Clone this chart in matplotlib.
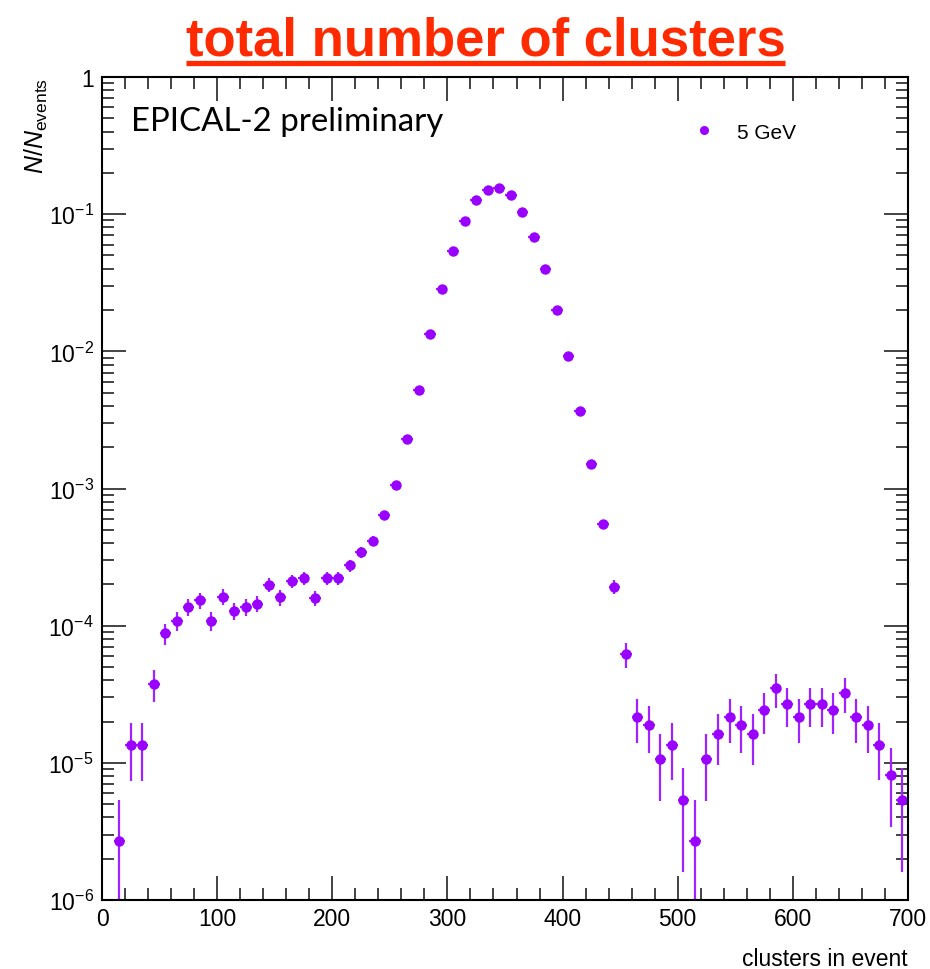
import numpy as np
import matplotlib
matplotlib.use("Agg")
import matplotlib.pyplot as plt
from matplotlib.lines import Line2D
from matplotlib.ticker import MultipleLocator, LogLocator, FuncFormatter, NullFormatter

plt.rcParams['font.family'] = ['Liberation Sans', 'DejaVu Sans']
plt.rcParams['mathtext.fontset'] = 'custom'
plt.rcParams['mathtext.rm'] = 'Liberation Sans'
plt.rcParams['mathtext.it'] = 'Liberation Sans:italic'
plt.rcParams['mathtext.bf'] = 'Liberation Sans:bold'

# bin centres (10 clusters per bin) and normalised counts
bin_centres = np.arange(15, 700, 10)
fraction = [
    2.7e-6, 1.34e-5, 1.34e-5, 3.76e-5, 8.8e-5, 1.09e-4, 1.37e-4, 1.53e-4, 1.08e-4, 1.63e-4,
    1.28e-4, 1.37e-4, 1.45e-4, 1.99e-4, 1.61e-4, 2.11e-4, 2.21e-4, 1.59e-4, 2.23e-4, 2.23e-4,
    2.75e-4, 3.42e-4, 4.16e-4, 6.4e-4, 1.06e-3, 2.3e-3, 5.2e-3, 1.33e-2, 2.84e-2, 5.4e-2,
    8.9e-2, 0.126, 0.150, 0.155, 0.138, 0.104, 0.068, 0.040, 0.020, 9.2e-3,
    3.68e-3, 1.51e-3, 5.5e-4, 1.93e-4, 6.2e-5, 2.15e-5, 1.89e-5, 1.07e-5, 1.35e-5, 5.4e-6,
    2.7e-6, 1.07e-5, 1.62e-5, 2.15e-5, 1.89e-5, 1.62e-5, 2.42e-5, 3.5e-5, 2.69e-5, 2.15e-5,
    2.69e-5, 2.69e-5, 2.42e-5, 3.23e-5, 2.15e-5, 1.89e-5, 1.35e-5, 8.1e-6, 5.4e-6,
]
fraction_err = [
    2.7e-6, 6.0e-6, 6.0e-6, 1.0e-5, 1.54e-5, 1.71e-5, 1.92e-5, 2.03e-5, 1.70e-5, 2.09e-5,
    1.86e-5, 1.92e-5, 1.97e-5, 2.31e-5, 2.08e-5, 2.38e-5, 2.44e-5, 2.07e-5, 2.45e-5, 2.45e-5,
    2.72e-5, 3.03e-5, 3.35e-5, 4.15e-5, 5.34e-5, 7.9e-5, 1.18e-4, 1.9e-4, 2.8e-4, 3.8e-4,
    4.9e-4, 5.8e-4, 6.4e-4, 6.5e-4, 6.1e-4, 5.3e-4, 4.3e-4, 3.3e-4, 2.3e-4, 1.57e-4,
    9.9e-5, 6.4e-5, 3.85e-5, 2.28e-5, 1.29e-5, 7.6e-6, 7.1e-6, 5.4e-6, 6.0e-6, 3.8e-6,
    2.7e-6, 5.4e-6, 6.6e-6, 7.6e-6, 7.1e-6, 6.6e-6, 8.1e-6, 9.7e-6, 8.5e-6, 7.6e-6,
    8.5e-6, 8.5e-6, 8.1e-6, 9.3e-6, 7.6e-6, 7.1e-6, 6.0e-6, 4.7e-6, 3.8e-6,
]
bin_half_width = 5
series_label = "5 GeV"
violet = "#9900ff"

fig = plt.figure(figsize=(9.3, 9.7), dpi=100)
ax = fig.add_axes([0.1097, 0.0711, 0.8666, 0.8485])

ax.errorbar(bin_centres, fraction, xerr=bin_half_width, yerr=fraction_err,
            fmt='o', ms=7.5, color=violet, ecolor='#a022ff', elinewidth=1.6,
            capsize=0, mew=0)

ax.set_yscale('log', nonpositive='clip')
ax.set_xlim(0, 700)
ax.set_ylim(1e-6, 1)

ax.xaxis.set_major_locator(MultipleLocator(100))
ax.xaxis.set_minor_locator(MultipleLocator(20))
ax.yaxis.set_major_locator(LogLocator(base=10, numticks=10))
ax.yaxis.set_minor_locator(LogLocator(base=10, subs=np.arange(2, 10), numticks=20))
ax.yaxis.set_minor_formatter(NullFormatter())


def decade_label(v, pos):
    e = int(round(np.log10(v)))
    return "1" if e == 0 else r"$10^{%d}$" % e


ax.yaxis.set_major_formatter(FuncFormatter(decade_label))

ax.tick_params(which='both', direction='in', top=True, right=True, width=1.2,
               labelsize=16.5, color='#222222')
ax.tick_params(which='major', length=17)
ax.tick_params(which='minor', length=8.5)
ax.tick_params(axis='x', pad=5)
ax.tick_params(axis='y', pad=6)
for s in ax.spines.values():
    s.set_linewidth(1.5)

ax.set_xlabel("clusters in event", fontsize=16.5, loc='right', labelpad=12)
ax.set_ylabel(r"$N/N_{\mathrm{events}}$", fontsize=18, loc='top')
ax.yaxis.set_label_coords(-0.064, 1.0)

ax.text(0.036, 0.936, "EPICAL-2 preliminary", transform=ax.transAxes,
        fontsize=23.8, family=['Lato', 'DejaVu Sans'], va='baseline', ha='left')

handle = Line2D([], [], marker='o', ls='none', ms=6.5, color=violet, mew=0)
ax.legend([handle], [series_label], loc='center left', bbox_to_anchor=(0.708, 0.933),
          frameon=False, fontsize=15, handlelength=1.2, handletextpad=1.0)

# underlined slide heading
title = fig.text(0.522, 1 - 55 / 970, "total number of clusters", ha='center',
                 va='baseline', fontsize=38, fontweight='bold', color='#ff2a00')
fig.canvas.draw()
bb = title.get_window_extent().transformed(fig.transFigure.inverted())
fig.add_artist(Line2D([bb.x0, bb.x1], [1 - 64 / 970] * 2, transform=fig.transFigure,
                      color='#ff2a00', lw=3.8, solid_capstyle='butt'))

fig.savefig("out.png", dpi=100)
